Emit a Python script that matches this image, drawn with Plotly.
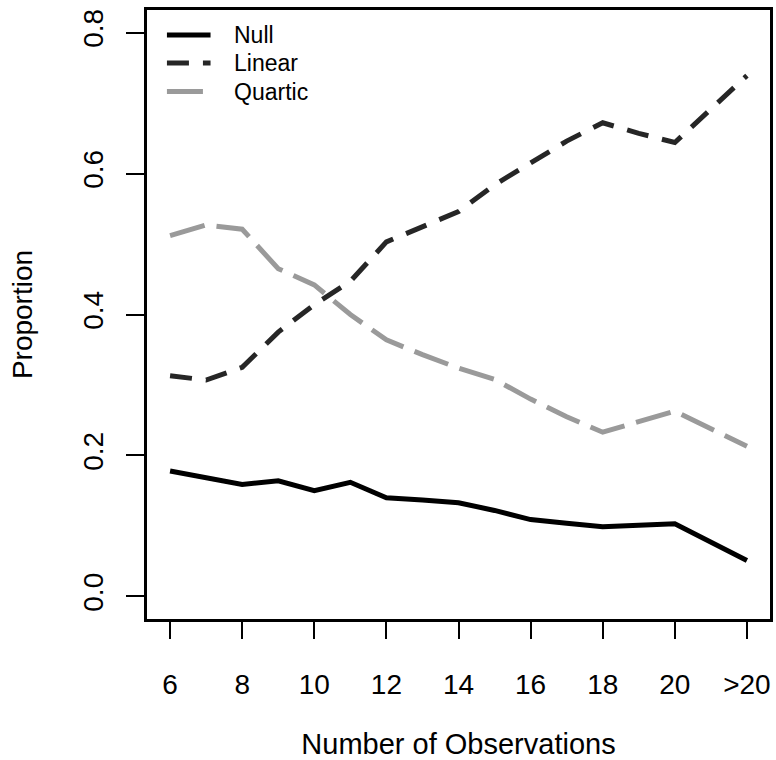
import plotly.graph_objects as go

# Number of observations (">20" is placed at position 22)
obs = [6, 7, 8, 9, 10, 11, 12, 13, 14, 15, 16, 17, 18, 19, 20, 22]
tick_vals = [6, 8, 10, 12, 14, 16, 18, 20, 22]
tick_text = ["6", "8", "10", "12", "14", "16", "18", "20", ">20"]

# Proportion of each model selected
null_prop = [0.178, 0.169, 0.159, 0.164, 0.150, 0.162, 0.140, 0.137, 0.133,
             0.122, 0.109, 0.104, 0.099, 0.101, 0.103, 0.051]
linear_prop = [0.313, 0.307, 0.325, 0.375, 0.414, 0.447, 0.503, 0.524, 0.546,
               0.584, 0.615, 0.646, 0.672, 0.657, 0.644, 0.739]
quartic_prop = [0.512, 0.527, 0.521, 0.465, 0.442, 0.400, 0.364, 0.343, 0.324,
                0.308, 0.280, 0.255, 0.233, 0.248, 0.263, 0.213]

series_names = ["Null", "Linear", "Quartic"]
series_values = [null_prop, linear_prop, quartic_prop]
series_colors = ["#000000", "#262626", "#9a9a9a"]
series_dash = ["solid", "22px,14px", "36px,12px"]
LW = 5

FONT = "Liberation Sans, Arial, sans-serif"

fig = go.Figure()
for name, vals, col, dash in zip(series_names, series_values, series_colors, series_dash):
    fig.add_trace(go.Scatter(x=obs, y=vals, mode="lines", name=name,
                             line=dict(color=col, width=LW, dash=dash),
                             showlegend=False))

# Key in the top-left corner of the panel (axis-domain coordinates)
key_rows = [0.959, 0.913, 0.866]
for name, col, dash, ky in zip(series_names, series_colors, series_dash, key_rows):
    fig.add_shape(type="line", xref="x domain", yref="y domain",
                  x0=0.032, x1=0.102, y0=ky, y1=ky,
                  line=dict(color=col, width=LW, dash=dash))
    fig.add_annotation(xref="x domain", yref="y domain", x=0.137, y=ky,
                       xanchor="left", yanchor="middle", showarrow=False,
                       text=name, font=dict(size=23, family=FONT, color="black"))

fig.update_layout(
    width=776, height=760,
    margin=dict(l=147, r=3, t=10, b=139),
    paper_bgcolor="white", plot_bgcolor="white",
    font=dict(family=FONT, size=28, color="black"),
    showlegend=False,
)

fig.update_xaxes(
    range=[5.36, 22.64], tickmode="array", tickvals=tick_vals, ticktext=tick_text,
    showgrid=False, zeroline=False, showline=True, linecolor="black", linewidth=2.5,
    mirror=True, ticks="outside", ticklen=17, tickwidth=2, tickcolor="black",
    ticklabelstandoff=22,
    tickfont=dict(size=28, family=FONT),
    title=dict(text="Number of Observations", font=dict(size=29, family=FONT), standoff=36),
)
fig.update_yaxes(
    range=[-0.032, 0.832], tickmode="array", tickvals=[0, 0.2, 0.4, 0.6, 0.8],
    tickformat=".1f", tickangle=-90,
    showgrid=False, zeroline=False, showline=True, linecolor="black", linewidth=2.5,
    mirror=True, ticks="outside", ticklen=18, tickwidth=2, tickcolor="black",
    ticklabelstandoff=12,
    tickfont=dict(size=28, family=FONT),
    title=dict(text="Proportion", font=dict(size=28, family=FONT), standoff=38),
)

fig.write_html("out.html")
